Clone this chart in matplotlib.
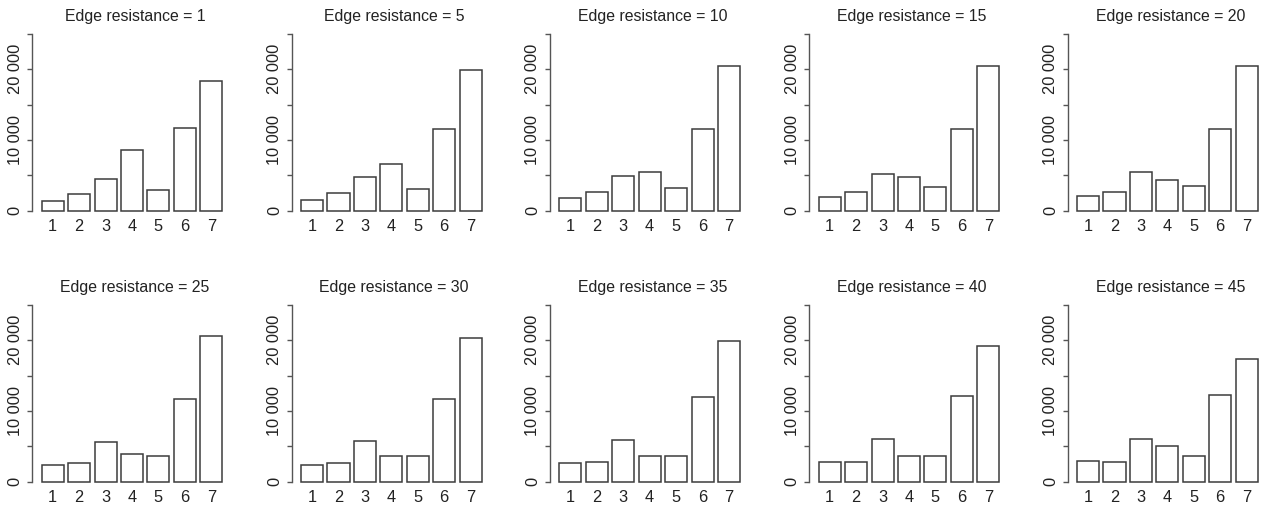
import matplotlib
matplotlib.use("Agg")
from matplotlib import pyplot as plt

plt.rcParams['font.family'] = ['Liberation Sans', 'DejaVu Sans']

resistances = [1, 5, 10, 15, 20, 25, 30, 35, 40, 45]
categories = [1, 2, 3, 4, 5, 6, 7]

r1 = [1400, 2350, 4470, 8560, 2960, 11670, 18350]
r5 = [1500, 2490, 4700, 6540, 3100, 11580, 19860]
r10 = [1740, 2590, 4940, 5410, 3250, 11580, 20380]
r15 = [1980, 2590, 5180, 4700, 3340, 11580, 20470]
r20 = [2070, 2590, 5410, 4280, 3480, 11580, 20470]
r25 = [2320, 2650, 5630, 3920, 3590, 11680, 20610]
r30 = [2410, 2650, 5720, 3690, 3590, 11770, 20380]
r35 = [2650, 2790, 5860, 3590, 3690, 12010, 19910]
r40 = [2790, 2790, 6000, 3690, 3690, 12100, 19240]
r45 = [2880, 2790, 6100, 5060, 3690, 12250, 17400]

series = [r1, r5, r10, r15, r20, r25, r30, r35, r40, r45]

W, H = 1261, 509
fig = plt.figure(figsize=(W / 100, H / 100), dpi=100)

# pixel layout (R barplot look)
spine_x = [32.3, 291.7, 550.0, 809.3, 1067.7]
zero_y = [210.7, 481.7]
top_y = [33.7, 305.0]
ax_w = 197.2

ink = '#222222'
edge = '#3c3c3c'

for i, (res, vals) in enumerate(zip(resistances, series)):
    row, col = divmod(i, 5)
    k = (zero_y[row] - top_y[row]) / 25000.0
    bottom_px = zero_y[row] + 1000 * k
    height_px = 27000 * k
    ax = fig.add_axes([spine_x[col] / W, 1 - bottom_px / H, ax_w / W, height_px / H])

    pos = [0.7 + 1.2 * j for j in range(len(categories))]
    ax.bar(pos, vals, width=1.0, color='white', edgecolor=edge, linewidth=1.1)
    ax.set_xlim(-0.225, 8.728)
    ax.set_ylim(-1000, 26000)

    for s in ['top', 'right', 'bottom']:
        ax.spines[s].set_visible(False)
    ax.spines['left'].set_bounds(0, 25000)
    ax.spines['left'].set_color('#555555')
    ax.spines['left'].set_linewidth(1.0)

    ax.set_yticks([0, 5000, 10000, 15000, 20000, 25000])
    ax.set_yticklabels(['0', '', '10 000', '', '20 000', ''], rotation=90, va='center')
    ax.tick_params(axis='y', length=3.5, width=1.0, color='#555555', pad=3.5,
                   labelsize=11.8, labelcolor=ink)

    ax.set_xticks(pos)
    ax.set_xticklabels([str(c) for c in categories])
    ax.tick_params(axis='x', length=0, pad=1, labelsize=11.8, labelcolor=ink)

    ax.set_title(f'Edge resistance = {res}', fontsize=11.4, color=ink, pad=4.3, x=0.52)

fig.savefig('out.png', dpi=100)
